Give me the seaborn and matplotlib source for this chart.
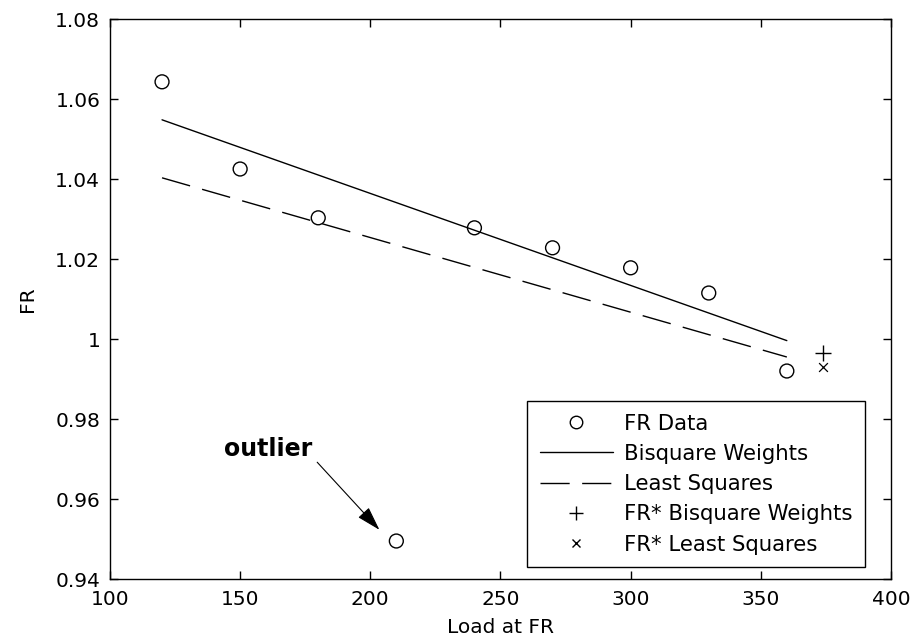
import matplotlib
matplotlib.use("Agg")
import matplotlib.pyplot as plt
from matplotlib.lines import Line2D
import seaborn as sns
import pandas as pd

# Measured FR values against load
load = [120, 150, 180, 210, 240, 270, 300, 330, 360]
fr = [1.0643, 1.0425, 1.0303, 0.9495, 1.0278, 1.0228, 1.0178, 1.0115, 0.992]

# Fitted lines (evaluated at the ends of the load range)
fit_x = [120, 360]
bisquare_y = [1.0548, 0.9996]
lsq_y = [1.0403, 0.9955]

# Predicted FR* at the extrapolated load
fr_star_x = [374]
fr_star_bisquare = [0.9964]
fr_star_lsq = [0.9929]

x_ticks = [100, 150, 200, 250, 300, 350, 400]
x_tick_labels = ["100", "150", "200", "250", "300", "350", "400"]
y_ticks = [0.94, 0.96, 0.98, 1.00, 1.02, 1.04, 1.06, 1.08]
y_tick_labels = ["0.94", "0.96", "0.98", "1", "1.02", "1.04", "1.06", "1.08"]

sns.set_style("ticks")
plt.rcParams["font.family"] = ["DejaVu Sans"]
plt.rcParams["text.color"] = "black"
plt.rcParams["axes.labelcolor"] = "black"
FS = 14.5
LEG_FS = 15.3
LS_DASH = (0, (21, 9))

fig, ax = plt.subplots(figsize=(9.21, 6.36), dpi=100)
fig.subplots_adjust(left=0.1194, right=0.9674, top=0.9701, bottom=0.0896)

data = pd.DataFrame({"load": load, "fr": fr})
sns.scatterplot(data=data, x="load", y="fr", ax=ax, marker="o", s=100,
                facecolors="none", edgecolors="black", linewidths=1.0, zorder=3)

sns.lineplot(x=fit_x, y=bisquare_y, ax=ax, color="black", linewidth=1.0)
sns.lineplot(x=fit_x, y=lsq_y, ax=ax, color="black", linewidth=1.0,
             linestyle=LS_DASH)

sns.scatterplot(x=fr_star_x, y=fr_star_bisquare, ax=ax, marker="+", s=130,
                color="black", linewidths=1.0)
sns.scatterplot(x=fr_star_x, y=fr_star_lsq, ax=ax, marker="x", s=40,
                color="black", linewidths=0.9)

ax.set_xlim(100, 400)
ax.set_ylim(0.94, 1.08)
ax.set_xticks(x_ticks)
ax.set_xticklabels(x_tick_labels)
ax.set_yticks(y_ticks)
ax.set_yticklabels(y_tick_labels)
ax.tick_params(direction="in", length=5.5, width=1.0, top=True, right=True,
               labelsize=FS, colors="black")
ax.tick_params(axis="x", pad=8)
ax.tick_params(axis="y", pad=7)
for s in ax.spines.values():
    s.set_visible(True)
    s.set_linewidth(1.0)
    s.set_color("black")

ax.set_xlabel("Load at FR", fontsize=FS)
ax.set_ylabel("FR", fontsize=FS)
ax.xaxis.set_label_coords(0.5, -0.0696)
ax.yaxis.set_label_coords(-0.0936, 0.5)

# Outlier note with arrow
ax.text(143.8, 0.9707, "outlier", fontsize=17, fontweight="bold",
        ha="left", va="baseline", color="black")
ax.annotate("", xy=(203.5, 0.9523), xytext=(179.6, 0.9692),
            arrowprops=dict(arrowstyle="-|>,head_length=1.5,head_width=0.45",
                            mutation_scale=10, color="black", lw=0.8,
                            shrinkA=0, shrinkB=0))

handles = [
    Line2D([], [], linestyle="none", marker="o", markersize=9,
           markerfacecolor="none", markeredgecolor="black"),
    Line2D([], [], color="black", linewidth=1.0),
    Line2D([], [], color="black", linewidth=1.0, linestyle=LS_DASH),
    Line2D([], [], linestyle="none", marker="+", markersize=10,
           color="black"),
    Line2D([], [], linestyle="none", marker="x", markersize=5.5,
           color="black"),
]
labels = ["FR Data", "Bisquare Weights", "Least Squares",
          "FR* Bisquare Weights", "FR* Least Squares"]
leg = ax.legend(handles, labels, loc="lower right",
                bbox_to_anchor=(0.9667, 0.021), borderaxespad=0,
                fontsize=LEG_FS, handlelength=3.45, handletextpad=0.5,
                labelspacing=0.48, borderpad=0.6, fancybox=False,
                framealpha=1, edgecolor="black")
leg.get_frame().set_linewidth(1.0)

fig.savefig("out.png", dpi=100)
